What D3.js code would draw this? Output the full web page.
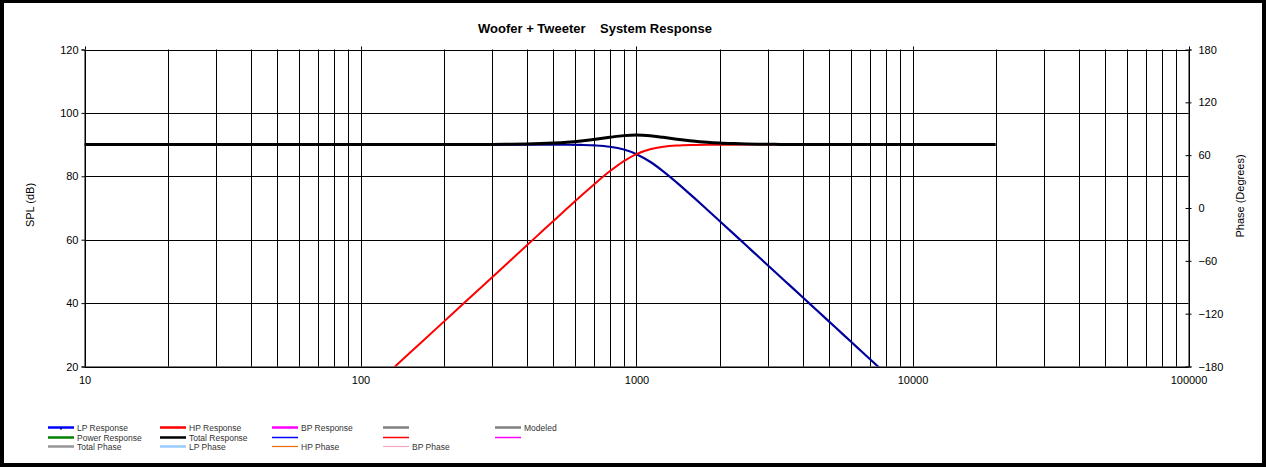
<!DOCTYPE html>
<html><head><meta charset="utf-8">
<script src="https://cdn.jsdelivr.net/npm/d3@7"></script>
<style>
html,body{margin:0;padding:0;background:#fff;}
svg{display:block;font-family:Arial,"Liberation Sans",sans-serif;}
</style></head>
<body><svg id="c" width="1266" height="467"></svg>
<script>
// ---- data ----
const freqs = [10,20,50,100,150,200,250,300,350,400,450,500,560,630,710,800,900,1000,1120,1250,1400,1600,1800,2000,2250,2500,2800,3150,3550,4000,4500,5000,5600,6300,7100,8000,10000,12500,16000,20000];
const lpResponse = [90,90,90,90,90,90,90,90,90,90,89.99,89.98,89.96,89.89,89.73,89.33,88.45,86.99,84.59,81.57,78.02,73.57,69.54,65.9,61.82,58.16,54.23,50.13,45.98,41.84,37.74,34.08,30.14,26.05,21.9,17.75,10,2.25,-6.33,-14.08];
const hpResponse = [-70,-45.9,-14.1,10,24.09,34.08,41.84,48.17,53.53,58.17,62.25,65.9,69.81,73.84,77.83,81.57,84.79,86.99,88.53,89.33,89.72,89.9,89.96,89.98,89.99,90,90,90,90,90,90,90,90,90,90,90,90,90,90,90];
const totalResponse = [90,90,90,90,90,90.01,90.03,90.07,90.13,90.22,90.34,90.51,90.77,91.17,91.7,92.31,92.83,93.01,92.8,92.3,91.72,91.13,90.75,90.51,90.33,90.21,90.14,90.08,90.05,90.03,90.02,90.01,90,90,90,90,90,90,90,90];
const splTicks = [20,40,60,80,100,120];
const phaseTicks = [-180,-120,-60,0,60,120,180];
const freqTickLabels = [10,100,1000,10000,100000];
const legendRow1 = ["LP Response","HP Response","BP Response","","Modeled"];
const legendRow2 = ["Power Response","Total Response","","",""];
const legendRow3 = ["Total Phase","LP Phase","HP Phase","BP Phase"];
const legendColors1 = ["#0000ff","#ff0000","#ff00ff","#808080","#808080"];
const legendColors2 = ["#008000","#000000","#0000ff","#ff0000","#ff00ff"];
const legendColors3 = ["#969696","#99ccff","#e46c0a","#f4a6c4"];

// ---- layout ----
const svg = d3.select("#c");
const L = 84.5, R = 1188.5, T = 49.5, B = 366.5;
const x = d3.scaleLog().domain([10,100000]).range([L,R]);
const y = d3.scaleLinear().domain([20,120]).range([B,T]);
const yp = d3.scaleLinear().domain([-180,180]).range([B,T]);

// outer frame
svg.append("rect").attr("x",0).attr("y",0).attr("width",1266).attr("height",467).attr("fill","#000");
svg.append("rect").attr("x",4).attr("y",3).attr("width",1258).attr("height",460).attr("fill","#fff");

// title
svg.append("text").attr("x",595).attr("y",33).attr("text-anchor","middle")
  .attr("font-size",13).attr("font-weight","bold").style("white-space","pre")
  .text("Woofer + Tweeter    System Response");

// gridlines
const g = svg.append("g");
const vticks = [];
for (let d=10; d<100000; d*=10) for (let k=1;k<10;k++) vticks.push(d*k);
vticks.push(100000);
g.selectAll("line.v").data(vticks).enter().append("line")
  .attr("x1",d=>Math.round(x(d))+0.5).attr("x2",d=>Math.round(x(d))+0.5)
  .attr("y1",T).attr("y2",B).attr("stroke","#000").attr("stroke-width",1);
g.selectAll("line.h").data(splTicks).enter().append("line")
  .attr("x1",L).attr("x2",R)
  .attr("y1",d=>Math.round(y(d))+0.5).attr("y2",d=>Math.round(y(d))+0.5)
  .attr("stroke","#000").attr("stroke-width",1);
// top small ticks at decades
g.selectAll("line.tt").data(freqTickLabels).enter().append("line")
  .attr("x1",d=>Math.round(x(d))+0.5).attr("x2",d=>Math.round(x(d))+0.5)
  .attr("y1",T-3).attr("y2",T).attr("stroke","#000");

// left axis
const yAxis = d3.axisLeft(y).tickValues(splTicks).tickSize(3).tickPadding(3);
const ya = svg.append("g").attr("transform",`translate(${L},0)`).call(yAxis);
ya.select(".domain").attr("stroke","#000");
ya.selectAll("text").attr("font-size",11).attr("font-family","Arial,'Liberation Sans',sans-serif").attr("fill","#000");

// right axis
const pAxis = d3.axisRight(yp).tickValues(phaseTicks).tickSize(3).tickPadding(7);
const pa = svg.append("g").attr("transform",`translate(${R},0)`).call(pAxis);
pa.selectAll(".tick line").attr("x1",-3);
pa.selectAll("text").attr("font-size",11).attr("font-family","Arial,'Liberation Sans',sans-serif").attr("fill","#000");

// bottom axis
const xAxis = d3.axisBottom(x).tickValues(freqTickLabels).tickSize(0).tickPadding(10).tickFormat(d3.format("d"));
const xa = svg.append("g").attr("transform",`translate(0,${B})`).call(xAxis);
xa.selectAll("text").attr("font-size",11).attr("font-family","Arial,'Liberation Sans',sans-serif").attr("fill","#000");

// axis titles
svg.append("text").attr("transform","translate(34,205) rotate(-90)").attr("text-anchor","middle")
  .attr("font-size",11).text("SPL (dB)");
svg.append("text").attr("transform","translate(1244,196) rotate(-90)").attr("text-anchor","middle")
  .attr("font-size",11).text("Phase (Degrees)");

// curves
svg.append("clipPath").attr("id","clip").append("rect")
  .attr("x",L).attr("y",T-2).attr("width",R-L).attr("height",B-T+2);
const plot = svg.append("g").attr("clip-path","url(#clip)");
const mk = arr => d3.line().x((d,i)=>x(freqs[i])).y(d=>y(d)).curve(d3.curveMonotoneX)(arr);
plot.append("path").attr("d",mk(lpResponse)).attr("fill","none").attr("stroke","#00009c").attr("stroke-width",2.2);
plot.append("path").attr("d",mk(hpResponse)).attr("fill","none").attr("stroke","#ff0000").attr("stroke-width",2);
plot.append("path").attr("d",mk(totalResponse)).attr("fill","none").attr("stroke","#000").attr("stroke-width",3);

// legend
const colX = [48,160,272,383,495];
const rowY = [427.5,437.5,446.5];
const leg = svg.append("g").attr("font-size",8.5).attr("fill","#333");
function legRow(labels, colors, ry, widths){
  colors.forEach((c,i)=>{
    leg.append("line").attr("x1",colX[i]).attr("x2",colX[i]+26).attr("y1",ry).attr("y2",ry)
      .attr("stroke",c).attr("stroke-width",widths[i]);
    if (labels[i]) leg.append("text").attr("x",colX[i]+29).attr("y",ry+3).text(labels[i]);
  });
}
legRow(legendRow1, legendColors1, rowY[0], [2.5,2.5,2.5,2.5,2.5]);
leg.append("rect").attr("x",colX[0]+12).attr("y",rowY[0]).attr("width",2).attr("height",2).attr("fill","#000080");
legRow(legendRow2, legendColors2, rowY[1], [2.5,2.5,1.5,1.5,1.5]);
legRow(legendRow3, legendColors3, rowY[2], [2.5,2.5,1.2,1.2]);
</script></body></html>
